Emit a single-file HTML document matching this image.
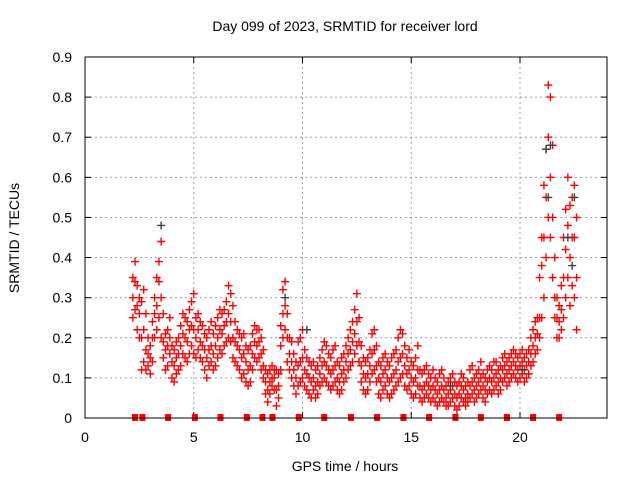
<!DOCTYPE html>
<html><head><meta charset="utf-8"><style>
body{margin:0;background:#fff;}
svg{display:block;font-family:"Liberation Sans",sans-serif;}
</style></head><body>
<svg id="chart" width="640" height="480" xmlns="http://www.w3.org/2000/svg">
<rect width="640" height="480" fill="#fff"/>
<text x="345" y="31" font-size="14" text-anchor="middle">Day 099 of 2023, SRMTID for receiver lord</text>
<text x="345" y="471" font-size="14" text-anchor="middle">GPS time / hours</text>
<text transform="translate(19,238) rotate(-90)" font-size="14" text-anchor="middle">SRMTID / TECUs</text>
<g id="grid"></g>
<g id="ticks"></g>
<g id="marks"></g>
<rect x="85" y="57" width="522" height="361" fill="none" stroke="#000" stroke-width="1"/>
</svg>
<script>
const xTicks=[0,5,10,15,20];
const yTicks=[0,0.1,0.2,0.3,0.4,0.5,0.6,0.7,0.8,0.9];
const yTickLabels=["0","0.1","0.2","0.3","0.4","0.5","0.6","0.7","0.8","0.9"];
const gapHours=[2.30,2.64,3.82,5.05,6.23,7.44,8.16,8.62,9.83,11.0,12.23,13.43,14.64,15.82,17.03,18.2,19.4,20.6,21.8];
const hours=[2.2,2.3,2.4,2.5,2.6,2.7,2.8,2.9,3.0,3.1,3.2,3.3,3.4,3.5,3.6,3.7,3.8,3.9,4.0,4.1,4.2,4.3,4.4,4.5,4.6,4.7,4.8,4.9,5.0,5.1,5.2,5.3,5.4,5.5,5.6,5.7,5.8,5.9,6.0,6.1,6.2,6.3,6.4,6.5,6.6,6.7,6.8,6.9,7.0,7.1,7.2,7.3,7.4,7.5,7.6,7.7,7.8,7.9,8.0,8.1,8.2,8.3,8.4,8.5,8.6,8.7,8.8,8.9,9.0,9.1,9.2,9.3,9.4,9.5,9.6,9.7,9.8,9.9,10.0,10.1,10.2,10.3,10.4,10.5,10.6,10.7,10.8,10.9,11.0,11.1,11.2,11.3,11.4,11.5,11.6,11.7,11.8,11.9,12.0,12.1,12.2,12.3,12.4,12.5,12.6,12.7,12.8,12.9,13.0,13.1,13.2,13.3,13.4,13.5,13.6,13.7,13.8,13.9,14.0,14.1,14.2,14.3,14.4,14.5,14.6,14.7,14.8,14.9,15.0,15.1,15.2,15.3,15.4,15.5,15.6,15.7,15.8,15.9,16.0,16.1,16.2,16.3,16.4,16.5,16.6,16.7,16.8,16.9,17.0,17.1,17.2,17.3,17.4,17.5,17.6,17.7,17.8,17.9,18.0,18.1,18.2,18.3,18.4,18.5,18.6,18.7,18.8,18.9,19.0,19.1,19.2,19.3,19.4,19.5,19.6,19.7,19.8,19.9,20.0,20.1,20.2,20.3,20.4,20.5,20.6,20.7,20.8,20.9,21.0,21.1,21.2,21.3,21.4,21.5,21.6,21.7,21.8,21.9,22.0,22.1,22.2,22.3,22.4,22.5,22.6];
const lowVals=[.25,.27,.22,.20,.12,.14,.12,.13,.11,.14,.20,.22,.25,.20,.15,.12,.13,.16,.10,.09,.11,.12,.13,.16,.15,.14,.16,.18,.16,.15,.17,.15,.14,.12,.10,.13,.14,.12,.13,.15,.17,.16,.18,.19,.20,.19,.15,.14,.13,.12,.10,.11,.09,.08,.09,.12,.15,.14,.15,.12,.10,.06,.04,.06,.08,.07,.03,.05,.12,.20,.22,.14,.12,.10,.08,.06,.08,.09,.10,.08,.07,.06,.05,.07,.05,.06,.08,.09,.10,.09,.08,.07,.08,.09,.07,.06,.07,.09,.10,.12,.13,.14,.16,.18,.14,.09,.07,.06,.07,.09,.11,.12,.09,.06,.05,.07,.08,.06,.05,.06,.07,.08,.09,.10,.11,.08,.07,.08,.06,.05,.06,.08,.05,.04,.05,.06,.05,.04,.05,.04,.03,.04,.05,.04,.03,.03,.04,.05,.03,.02,.03,.05,.04,.03,.04,.05,.06,.04,.05,.06,.07,.05,.04,.06,.07,.06,.07,.08,.06,.07,.09,.10,.08,.09,.10,.11,.10,.09,.10,.11,.09,.10,.11,.13,.14,.16,.17,.20,.25,.30,.40,.50,.45,.35,.25,.20,.20,.22,.25,.30,.35,.28,.33,.30,.22];
const midVals=[.30,.34,.28,.26,.20,.22,.17,.16,.15,.20,.26,.28,.34,.30,.19,.17,.18,.20,.14,.13,.15,.16,.18,.21,.20,.19,.22,.23,.22,.20,.22,.19,.18,.17,.15,.17,.18,.16,.18,.20,.22,.21,.23,.24,.26,.24,.20,.19,.18,.17,.15,.16,.14,.12,.13,.16,.19,.18,.19,.16,.13,.09,.07,.09,.10,.10,.07,.08,.18,.26,.28,.20,.16,.14,.12,.10,.13,.14,.15,.12,.11,.10,.09,.10,.08,.09,.11,.13,.14,.13,.12,.11,.12,.13,.10,.09,.11,.12,.14,.16,.17,.19,.21,.24,.19,.13,.11,.10,.11,.13,.16,.17,.13,.10,.09,.11,.12,.10,.09,.10,.11,.12,.14,.15,.16,.13,.11,.12,.10,.09,.10,.12,.08,.07,.08,.09,.08,.07,.08,.07,.06,.07,.08,.07,.05,.06,.07,.08,.06,.05,.06,.08,.07,.05,.06,.08,.09,.07,.08,.09,.10,.08,.07,.09,.10,.09,.10,.11,.09,.10,.12,.13,.11,.12,.13,.14,.13,.12,.13,.14,.12,.13,.14,.16,.18,.20,.21,.25,.38,.45,.55,.70,.60,.50,.30,.25,.24,.27,.35,.42,.48,.40,.45,.45,.35];
const highVals=[.35,.39,.33,.30,.29,.32,.26,.20,.18,.24,.30,.35,.39,.44,.26,.21,.22,.25,.18,.17,.19,.20,.23,.26,.25,.24,.27,.29,.31,.25,.26,.24,.23,.21,.20,.22,.24,.21,.23,.25,.27,.26,.27,.29,.33,.31,.28,.24,.22,.21,.20,.21,.18,.17,.18,.21,.23,.22,.22,.20,.17,.12,.11,.12,.13,.12,.12,.11,.23,.32,.34,.26,.20,.19,.16,.14,.19,.20,.22,.17,.15,.14,.13,.14,.12,.13,.15,.17,.19,.18,.16,.15,.17,.18,.14,.13,.15,.16,.18,.20,.22,.24,.27,.31,.25,.18,.15,.14,.15,.17,.21,.22,.18,.14,.13,.15,.16,.14,.13,.15,.16,.17,.20,.22,.21,.18,.15,.17,.14,.13,.15,.18,.12,.11,.12,.13,.11,.10,.12,.10,.09,.11,.12,.10,.08,.09,.10,.11,.09,.08,.09,.11,.10,.08,.09,.12,.13,.10,.11,.12,.14,.11,.10,.12,.13,.12,.14,.14,.12,.13,.15,.16,.14,.15,.16,.17,.16,.15,.16,.17,.15,.16,.17,.20,.22,.24,.25,.35,.45,.58,.67,.83,.80,.68,.40,.30,.28,.33,.45,.52,.60,.53,.55,.58,.50];
const darkHours=[3.5,9.2,10.2,21.2,21.3,21.4,22.2,22.4,22.5,20.1,16.8];
const darkVals=[.48,.30,.22,.67,.55,.68,.45,.38,.55,.12,.08];

const X0=85,X1=607,Y0=418,Y1=57,XMAX=24,YMAX=0.9;
const xs=h=>X0+h/XMAX*(X1-X0);
const ys=v=>Y0-v/YMAX*(Y0-Y1);
const NS="http://www.w3.org/2000/svg";
const grid=document.getElementById('grid'),ticks=document.getElementById('ticks'),marks=document.getElementById('marks');
function mk(tag,attrs,parent){const e=document.createElementNS(NS,tag);for(const k in attrs)e.setAttribute(k,attrs[k]);parent.appendChild(e);return e;}
xTicks.forEach(t=>{
  const x=xs(t);
  if(t>0){const g=mk('line',{x1:x,x2:x,y1:Y1,y2:Y0,stroke:'#a0a0a0','stroke-dasharray':'2,3'},grid);
  
  }
  const tx=mk('text',{x:x,y:442,'font-size':14,'text-anchor':'middle'},ticks);
  tx.textContent=String(t);
  
  
  mk('line',{x1:x,x2:x,y1:Y0,y2:Y0-6,stroke:'#000'},ticks);
  mk('line',{x1:x,x2:x,y1:Y1,y2:Y1+6,stroke:'#000'},ticks);
});
yTicks.forEach((t,i)=>{
  const y=ys(t);
  if(t>0&&t<YMAX){const g=mk('line',{x1:X0,x2:X1,y1:y,y2:y,stroke:'#a0a0a0','stroke-dasharray':'2,3'},grid);
  
  }
  const tx=mk('text',{x:72,y:y+5,'font-size':14,'text-anchor':'end'},ticks);
  tx.textContent=yTickLabels[i];
  
  
  mk('line',{x1:X0,x2:X0+6,y1:y,y2:y,stroke:'#000'},ticks);
  mk('line',{x1:X1,x2:X1-6,y1:y,y2:y,stroke:'#000'},ticks);
});
function plus(h,v,color){
  const x=xs(h),y=ys(v);
  const p=mk('path',{d:`M${x-4},${y}H${x+4}M${x},${y-4}V${y+4}`,stroke:color,'stroke-width':1.4,fill:'none'},marks);
  
  
}
[lowVals,midVals,highVals].forEach(arr=>arr.forEach((v,i)=>plus(hours[i],v,'#ff0000')));
darkHours.forEach((h,i)=>plus(h,darkVals[i],'#404040'));
gapHours.forEach(h=>{
  const r=mk('rect',{x:xs(h)-3,y:Y0-4,width:6,height:7,fill:'#ff0000'},marks);
  
  
});
</script>
</body></html>
